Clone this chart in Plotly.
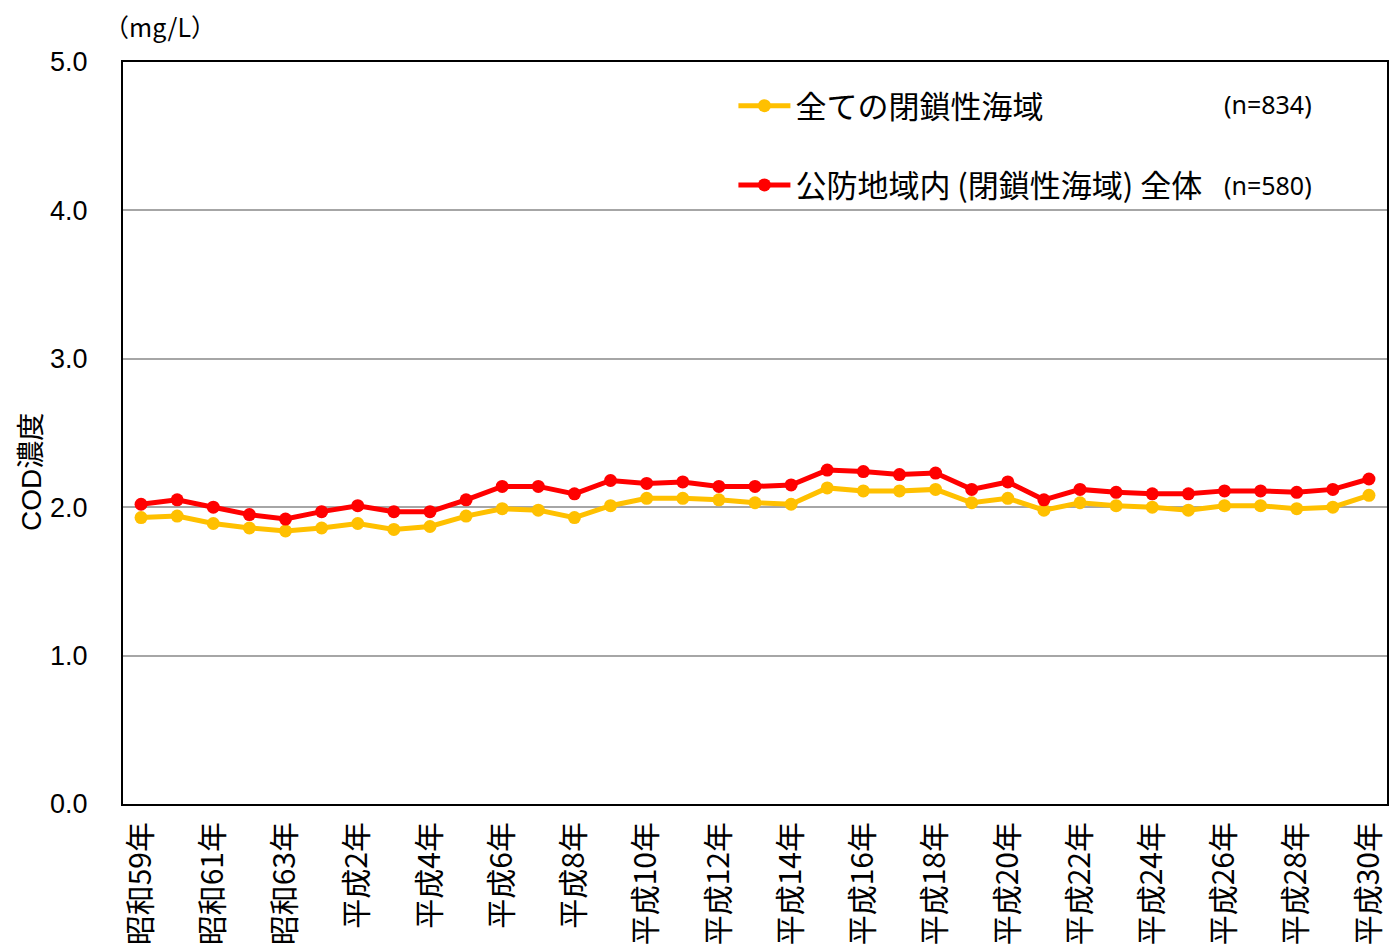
import plotly.graph_objects as go

years = ["昭和59年", "昭和60年", "昭和61年", "昭和62年", "昭和63年", "平成元年"] + [f"平成{i}年" for i in range(2, 31)]

all_closed = [1.93, 1.94, 1.89, 1.86, 1.84, 1.86, 1.89, 1.85, 1.87, 1.94, 1.99, 1.98,
              1.93, 2.01, 2.06, 2.06, 2.05, 2.03, 2.02, 2.13, 2.11, 2.11, 2.12, 2.03,
              2.06, 1.98, 2.03, 2.01, 2.00, 1.98, 2.01, 2.01, 1.99, 2.00, 2.08]
koubou_closed = [2.02, 2.05, 2.00, 1.95, 1.92, 1.97, 2.01, 1.97, 1.97, 2.05, 2.14, 2.14,
                 2.09, 2.18, 2.16, 2.17, 2.14, 2.14, 2.15, 2.25, 2.24, 2.22, 2.23, 2.12,
                 2.17, 2.05, 2.12, 2.10, 2.09, 2.09, 2.11, 2.11, 2.10, 2.12, 2.19]

names = ["全ての閉鎖性海域", "公防地域内 (閉鎖性海域) 全体"]
counts = ["(n=834)", "(n=580)"]
colors = ["#FFC000", "#FF0000"]

FONT = "Liberation Sans, Noto Sans CJK JP, sans-serif"
CJK = "Noto Sans CJK JP, sans-serif"

FW, FH = 1390, 950
PL, PR, PT, PB = 123, 1387, 62, 804
PW, PH = PR - PL, PB - PT

fig = go.Figure()
for name, vals, col in zip(names, [all_closed, koubou_closed], colors):
    fig.add_trace(go.Scatter(
        x=years, y=vals, name=name, mode="lines+markers",
        line=dict(color=col, width=5), marker=dict(color=col, size=13),
        legendgroup=name,
    ))

fig.update_layout(
    width=FW, height=FH,
    margin=dict(l=PL, r=FW - PR, t=PT, b=FH - PB),
    plot_bgcolor="white", paper_bgcolor="white",
    font=dict(family=FONT, size=27, color="black"),
    showlegend=True,
    legend=dict(x=(741 - PL) / PW - 0.006, y=(PB - 79) / PH, xanchor="left", yanchor="top",
                font=dict(family=CJK, size=31), tracegroupgap=36,
                itemwidth=52, bgcolor="rgba(0,0,0,0)"),
    xaxis=dict(type="category", tickvals=years[::2], tickangle=-90,
               range=[-0.5, len(years) - 0.5], automargin=False,
               showline=True, linecolor="black", linewidth=2, mirror=True,
               showgrid=False, ticks="", ticklabelstandoff=4,
               tickfont=dict(family=CJK, size=30)),
    yaxis=dict(range=[0, 5], dtick=1, tickformat=".1f", automargin=False,
               showline=True, linecolor="black", linewidth=2, mirror=True,
               showgrid=True, gridcolor="#A6A6A6", gridwidth=1.5,
               ticks="", ticklabelstandoff=28, zeroline=False,
               tickfont=dict(size=27)),
)

for i, c in enumerate(counts):
    fig.add_annotation(x=(1314 - PL) / PW, y=(PB - (104 + 81 * i)) / PH,
                       xref="paper", yref="paper", text=c, showarrow=False,
                       xanchor="right", yanchor="middle",
                       font=dict(family="Noto Sans, sans-serif", size=25))

fig.add_annotation(x=(160 - PL) / PW, y=(PB - 26) / PH, xref="paper", yref="paper",
                   text="（mg/L）", showarrow=False, xanchor="center", yanchor="middle",
                   font=dict(family=CJK, size=25))
fig.add_annotation(x=(31 - PL) / PW, y=(PB - 472) / PH, xref="paper", yref="paper",
                   text="COD濃度", showarrow=False, textangle=-90,
                   xanchor="center", yanchor="middle", font=dict(family=FONT, size=28))

fig.write_html("out.html", config={"displayModeBar": False},
               post_script="document.body.style.margin='0';document.body.style.overflow='hidden';")
